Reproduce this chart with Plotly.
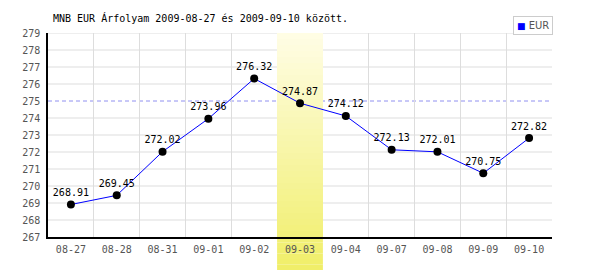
import plotly.graph_objects as go

# ---- data ----
dates = ["08-27", "08-28", "08-31", "09-01", "09-02", "09-03",
         "09-04", "09-07", "09-08", "09-09", "09-10"]
eur = [268.91, 269.45, 272.02, 273.96, 276.32, 274.87,
       274.12, 272.13, 272.01, 270.75, 272.82]
labels = [f"{v:.2f}" for v in eur]
highlight_date = "09-03"
ref_level = 275
y_ticks = list(range(267, 280))
title_text = "MNB EUR Árfolyam 2009-08-27 és 2009-09-10 között."
series_name = "EUR"

W, H = 600, 270
ML, MR, MT, MB = 48, 48, 33, 33
mono = "DejaVu Sans Mono"

top_c = (255, 253, 230)
bot_c = (240, 238, 104)
ymin, ymax = y_ticks[0], y_ticks[-1]
plot_h = H - MT - MB
ybot_paper = -MB / plot_h
total = 1 - ybot_paper  # paper span from image bottom to plot top


def grad(f):
    return "rgb(%d,%d,%d)" % tuple(round(top_c[k] + (bot_c[k] - top_c[k]) * f) for k in range(3))


fig = go.Figure()

# highlight band inside plot area: stacked bar strips (over grid, under line)
n_in = 34
for i in range(n_in):
    ya = ymax - (ymax - ymin) * i / n_in
    yb = ymax - (ymax - ymin) * (i + 1) / n_in
    frac_paper = 1 - (((ya + yb) / 2 - ymin) / (ymax - ymin))  # 0 top, 1 axis
    f = frac_paper / total
    fig.add_trace(go.Bar(
        x=[highlight_date], y=[ya - yb], base=[yb], width=[1.0],
        marker=dict(color=grad(f), line=dict(width=0)),
        showlegend=False, hoverinfo="skip",
    ))

fig.add_trace(go.Scatter(
    x=dates, y=eur, mode="lines+markers+text",
    text=labels, textposition="top center",
    textfont=dict(family=mono, size=10, color="#000000"),
    line=dict(color="#0000ff", width=1),
    marker=dict(color="#000000", size=8),
    showlegend=False, cliponaxis=False, hoverinfo="skip",
))

shapes = []
# horizontal grid lines (as shapes so the reference line can sit on top)
for t in y_ticks:
    if t == ref_level or t == ymin:
        continue
    shapes.append(dict(type="line", xref="x domain", yref="y", x0=0, x1=1,
                       y0=t, y1=t, layer="below",
                       line=dict(color="#dddddd", width=1)))
# reference dashed line
shapes.append(dict(type="line", xref="x domain", yref="y", x0=0, x1=1,
                   y0=ref_level, y1=ref_level, layer="below",
                   line=dict(color="#9090f0", width=1, dash="4px,3px")))

# band continuation below the axis
hi = dates.index(highlight_date)
n_out = 6
for i in range(n_out):
    ya = ybot_paper * i / n_out
    yb = ybot_paper * (i + 1) / n_out
    f = (1 - (ya + yb) / 2) / total
    shapes.append(dict(type="rect", xref="x", yref="paper", x0=hi - 0.5, x1=hi + 0.5,
                       y0=yb, y1=ya, layer="below", fillcolor=grad(f),
                       line=dict(width=0)))

fig.update_layout(
    width=W, height=H,
    margin=dict(l=ML, r=MR, t=MT, b=MB, pad=0),
    paper_bgcolor="#ffffff", plot_bgcolor="#ffffff",
    shapes=shapes,
    showlegend=False,
    barmode="overlay", bargap=0,
    title=dict(text=title_text, x=53 / W, xanchor="left", xref="container",
               y=1 - 18 / H, yanchor="middle", yref="container",
               font=dict(family=mono, size=10, color="#000000")),
    xaxis=dict(type="category", categoryarray=dates, categoryorder="array",
               range=[-0.5, len(dates) - 0.5],
               tickson="boundaries", showgrid=True, gridcolor="#dddddd", gridwidth=1,
               showline=True, linecolor="#000000", linewidth=1.5,
               ticks="", ticklabelstandoff=2,
               tickfont=dict(family=mono, size=10, color="#555555"),
               fixedrange=True, zeroline=False),
    yaxis=dict(range=[ymin, ymax], tickvals=y_ticks,
               showgrid=False,
               showline=True, linecolor="#000000", linewidth=1.5,
               ticks="", ticklabelstandoff=4,
               tickfont=dict(family=mono, size=10, color="#555555"),
               fixedrange=True, zeroline=False),
    annotations=[dict(
        text=f"<span style='color:#0000ff;font-size:9px'>■</span> {series_name}",
        xref="paper", yref="paper", x=1.002, y=(plot_h - 2) / plot_h,
        xanchor="right", yanchor="bottom", showarrow=False,
        font=dict(family="DejaVu Sans", size=10, color="#555555"),
        bgcolor="#ffffff", bordercolor="#cccccc", borderwidth=1, borderpad=3,
    )],
)

fig.write_html("out.html")
